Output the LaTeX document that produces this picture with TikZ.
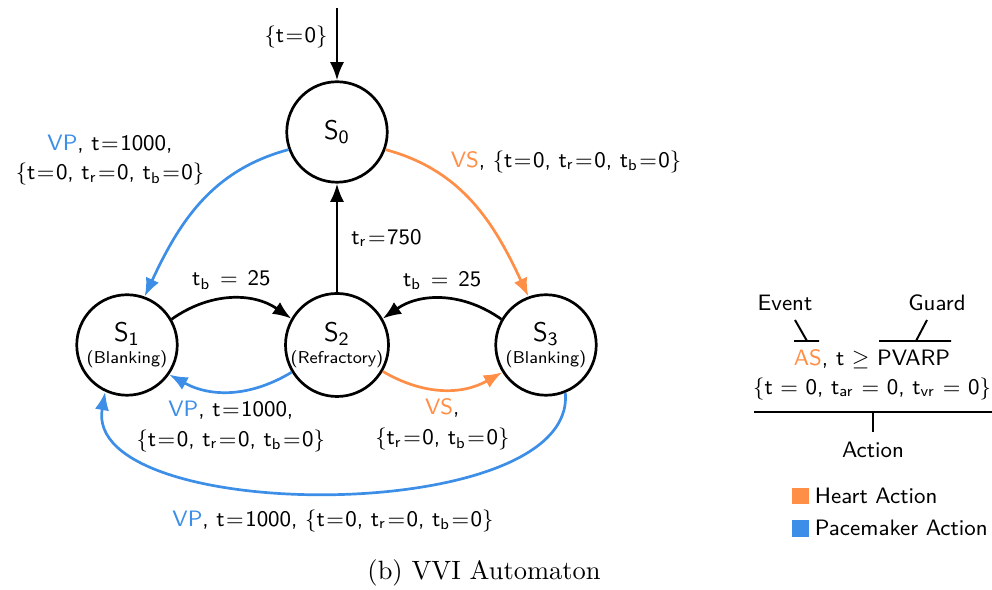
\documentclass[tikz,border=0pt]{standalone}
\usetikzlibrary{arrows.meta, positioning, calc}
\definecolor{heart}{HTML}{FF8E47}
\definecolor{pace}{HTML}{3C8EE7}
\newcommand{\tsub}[1]{t\textsubscript{#1}}
\newcommand{\eqs}{\kern0.6pt$=$\kern0.6pt}
\newcommand{\lb}{$\{$}
\newcommand{\rb}{$\}$}

\begin{document}
\begin{tikzpicture}[x=0.408pt, y=0.408pt,
  state/.style={circle, draw, line width=1.1pt, minimum size=41pt, inner sep=0pt,
                align=center, font=\sffamily},
  trans/.style={-{Latex[length=7.5pt,width=5.8pt]}, line width=1.1pt},
  lbl/.style={font=\sffamily\fontsize{9.1}{12.2}\selectfont, align=center, text=black},
]
  \useasboundingbox (0,0) rectangle (992,590);

  % states
  \node[state] (s0) at (337,458) {{\fontsize{11}{13}\selectfont S\textsubscript{0}}};
  \node[state] (s1) at (127,245) {{\fontsize{11}{13}\selectfont S\textsubscript{1}}\\[-3pt]{\scriptsize (Blanking)}};
  \node[state] (s2) at (337,245) {{\fontsize{11}{13}\selectfont S\textsubscript{2}}\\[-3pt]{\scriptsize (Refractory)}};
  \node[state] (s3) at (546,245) {{\fontsize{11}{13}\selectfont S\textsubscript{3}}\\[-3pt]{\scriptsize (Blanking)}};
  \coordinate (init) at (337,582);

  % transitions
  \draw[trans] (init) -- node[lbl, pos=0.4, left] (l0) {\lb t\eqs 0\rb} (s0.north);
  \draw[trans, pace] (s0.200) to[out=195, in=65] (s1.70);
  \draw[trans, heart] (s0.-20) to[out=-15, in=115] (s3.110);
  \draw[trans] (s2.north) -- node[lbl, right, xshift=2pt] (l20) {\tsub{r}\eqs 750} (s0.south);
  \draw[trans] (s1.30) to[bend left=35] node[lbl, above] (l12) {\tsub{b}\kern4pt$=$\kern4pt25} (s2.150);
  \draw[trans] (s3.150) to[bend right=35] node[lbl, above] (l32) {\tsub{b}\kern4pt$=$\kern4pt25} (s2.30);
  \draw[trans, pace] (s2.211) to[bend left=30]
    node[lbl, below] (l21) {\textcolor{pace}{VP}, t\eqs 1000,\\\lb t\eqs 0, \tsub{r}\eqs 0, \tsub{b}\eqs 0\rb} (s1.-35);
  \draw[trans, heart] (s2.-30) to[bend right=30]
    node[lbl, below] (l23) {\textcolor{heart}{VS},\\\lb\tsub{r}\eqs 0, \tsub{b}\eqs 0\rb} (s3.212);
  \draw[trans, pace] (s3.-68) to[out=-85, in=-100, looseness=0.75] (s1.-115);

  \node[lbl] (l01) at (110,430) {\textcolor{pace}{VP}, t\eqs 1000,\\\lb t\eqs 0, \tsub{r}\eqs 0, \tsub{b}\eqs 0\rb};
  \node[lbl] (l03) at (566,428) {\textcolor{heart}{VS}, \lb t\eqs 0, \tsub{r}\eqs 0, \tsub{b}\eqs 0\rb};
  \node[lbl] (l31) at (333,69) {\textcolor{pace}{VP}, t\eqs 1000, \lb t\eqs 0, \tsub{r}\eqs 0, \tsub{b}\eqs 0\rb};

  % legend
  \node[lbl] (event) at (785,287) {Event};
  \node[lbl] (guard) at (937,287) {Guard};
  \node[lbl] (guardex) at (872,231) {\textcolor{heart}{AS}, t $\geq$ PVARP};
  \node[lbl] (actex) at (872,201) {\lb t $=$ 0, \tsub{ar} $=$ 0, \tsub{vr} $=$ 0\rb};
  \node[lbl] (action) at (873,140) {Action};
  \draw[thick] (795,270) -- (807,249) (794,249) -- (819,249);
  \draw[thick] (927,270) -- (916,249) (879,249) -- (951,249);
  \draw[thick] (754,178) -- (992,178) (873,178) -- (873,158);

  \fill[heart] (792,86) rectangle (809,102);
  \node[lbl, anchor=west, inner sep=1pt] (hlab) at (812,94) {Heart Action};
  \fill[pace] (792,53) rectangle (809,70);
  \node[lbl, anchor=west, inner sep=1pt] (plab) at (812,62) {Pacemaker Action};

  \node[font=\rmfamily\fontsize{10.8}{13}\selectfont] (cap) at (484,17) {(b) VVI Automaton};
\end{tikzpicture}
\end{document}
